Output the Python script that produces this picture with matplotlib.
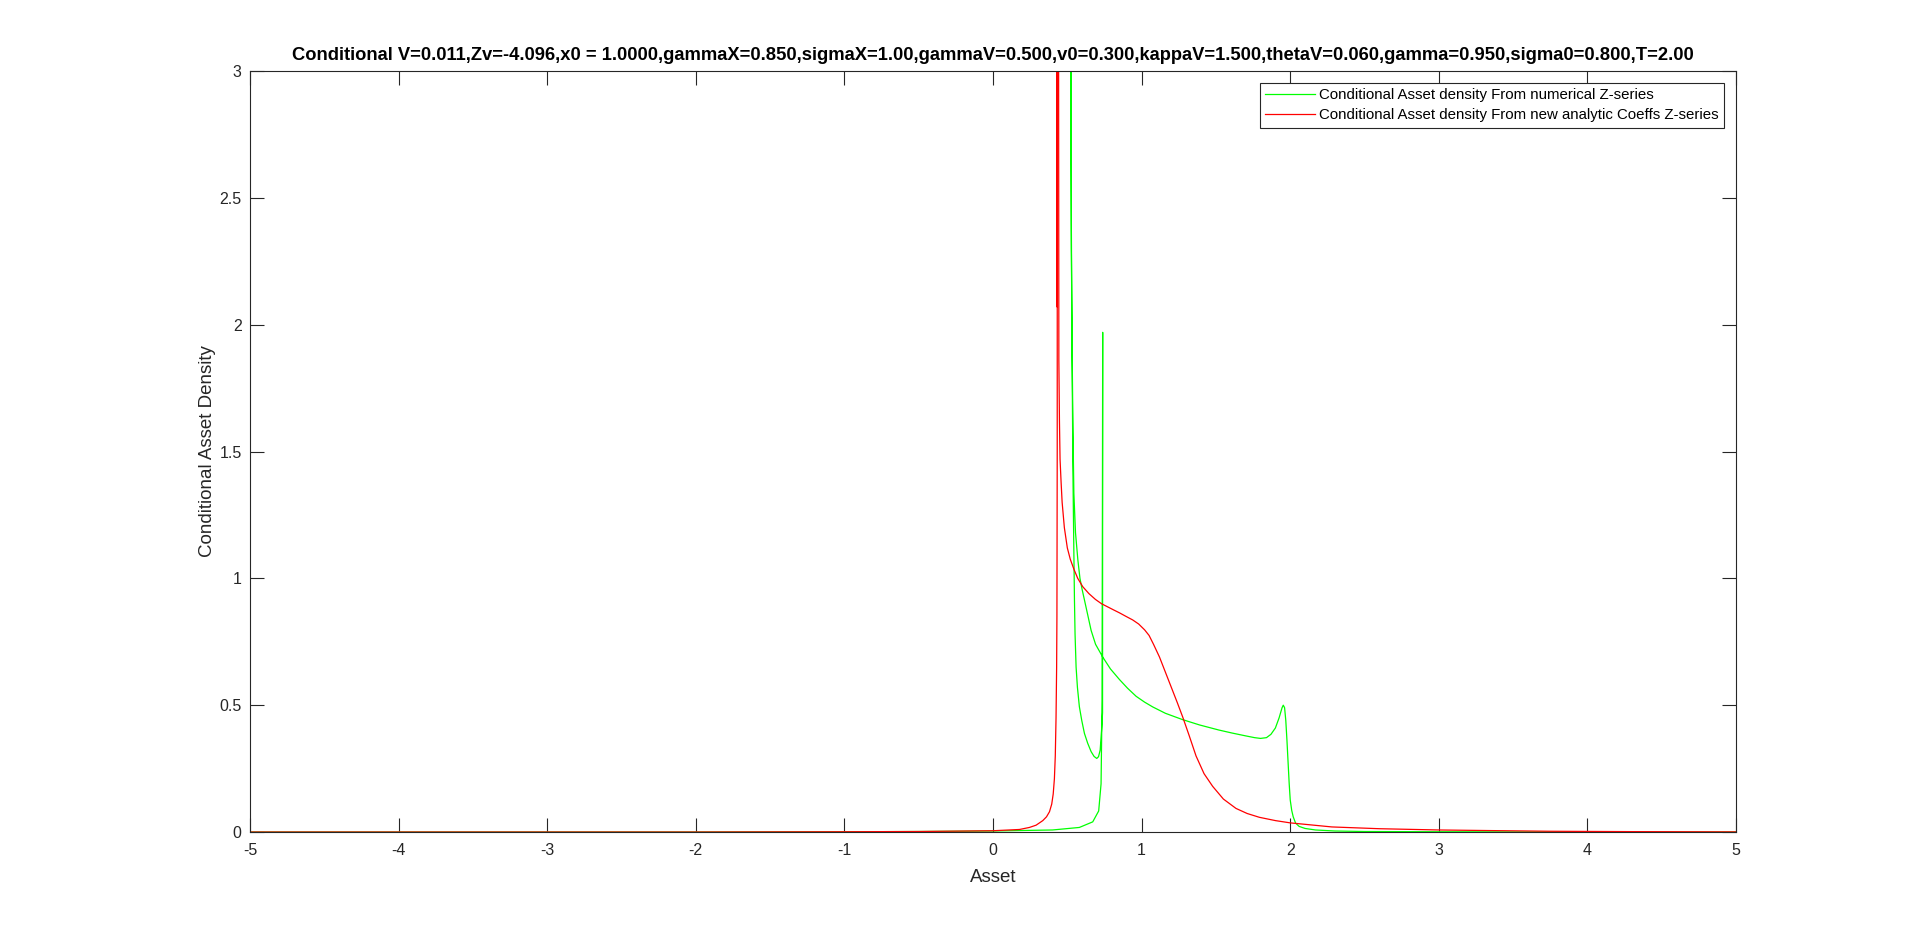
#!/usr/bin/env python3

"""
Conditional asset density: numerical Z-series vs analytic coefficients Z-series.
"""

import matplotlib
matplotlib.use("Agg")
import matplotlib.pyplot as plt

# Values. The asset grid is not monotonic
# near the folds, so both curves are plain polylines in drawing order.
green_x = [-5, -2, -1, -0.5, 0, 0.4, 0.581, 0.671, 0.711, 0.727, 0.734,
           0.738,
           0.737, 0.732, 0.721, 0.71, 0.698, 0.68, 0.66, 0.637, 0.615,
           0.597, 0.581, 0.568, 0.559, 0.552, 0.548, 0.543, 0.538, 0.532,
           0.527, 0.523, 0.521,
           0.522, 0.524, 0.527, 0.533, 0.538, 0.544, 0.555, 0.571, 0.585,
           0.6, 0.617, 0.635, 0.66, 0.69, 0.738, 0.79, 0.851, 0.905, 0.963,
           1.02, 1.075, 1.16, 1.276, 1.39, 1.52, 1.61, 1.7, 1.76, 1.8, 1.84,
           1.87, 1.9, 1.925, 1.945, 1.953, 1.962, 1.97, 1.978, 1.985, 1.993,
           2.0, 2.01, 2.02, 2.036, 2.06, 2.1, 2.17, 2.3, 2.5, 3, 4, 5]
green_y = [0, 0, 0.001, 0.002, 0.004, 0.008, 0.018, 0.04, 0.083, 0.19, 0.52,
           1.97,
           0.47, 0.415, 0.323, 0.297, 0.29, 0.298, 0.317, 0.35, 0.389,
           0.44, 0.494, 0.57, 0.65, 0.78, 0.914, 1.15, 1.4, 1.86,
           2.4, 3.2, 6.0,
           4.0, 2.9, 2.3, 1.86, 1.58, 1.335, 1.18, 1.072, 1.0,
           0.955, 0.91, 0.862, 0.795, 0.74, 0.69, 0.643, 0.601, 0.567, 0.535,
           0.512, 0.493, 0.468, 0.443, 0.422, 0.402, 0.39, 0.379, 0.372,
           0.369, 0.372, 0.385, 0.41, 0.45, 0.49, 0.5, 0.49, 0.44, 0.36,
           0.28, 0.19, 0.126, 0.085, 0.06, 0.035, 0.022, 0.014, 0.008,
           0.004, 0.002, 0.001, 0, 0]

red_x = [-5, -2, -1, -0.5, 0, 0.178, 0.245, 0.29, 0.335, 0.36, 0.38, 0.395,
         0.405, 0.413, 0.419, 0.424, 0.428, 0.43, 0.432,
         0.433, 0.431, 0.436, 0.44,
         0.443, 0.447, 0.451, 0.458, 0.465, 0.48, 0.5, 0.52, 0.545, 0.57,
         0.604, 0.645, 0.689, 0.73, 0.77, 0.81, 0.851, 0.895, 0.94, 0.98,
         1.02, 1.05, 1.08, 1.12, 1.16, 1.2, 1.24, 1.276, 1.32, 1.366, 1.42,
         1.478, 1.55, 1.635, 1.71, 1.792, 1.9, 2.0, 2.28, 2.6, 3.0, 3.74,
         4.3, 5]
red_y = [0, 0, 0.001, 0.002, 0.005, 0.01, 0.018, 0.027, 0.045, 0.06, 0.08,
         0.11, 0.15, 0.21, 0.3, 0.45, 0.65, 0.85, 1.5,
         5.0, 2.07, 6.0, 4.0,
         1.86, 1.62, 1.47, 1.38, 1.3, 1.2, 1.12, 1.075, 1.035, 1.0,
         0.967, 0.94, 0.917, 0.9, 0.888, 0.876, 0.864, 0.85, 0.836, 0.82,
         0.797, 0.775, 0.74, 0.69, 0.63, 0.57, 0.51, 0.454, 0.38, 0.3, 0.23,
         0.18, 0.13, 0.093, 0.073, 0.058, 0.045, 0.036, 0.02, 0.013, 0.008,
         0.003, 0.0015, 0.0005]

x_ticks = [-5, -4, -3, -2, -1, 0, 1, 2, 3, 4, 5]
y_ticks = [0, 0.5, 1, 1.5, 2, 2.5, 3]
y_tick_labels = ["0", "0.5", "1", "1.5", "2", "2.5", "3"]

title = ("Conditional V=0.011,Zv=-4.096,x0 = 1.0000,gammaX=0.850,"
         "sigmaX=1.00,gammaV=0.500,v0=0.300,kappaV=1.500,thetaV=0.060,"
         "gamma=0.950,sigma0=0.800,T=2.00")
labels = ["Conditional Asset density From numerical Z-series",
          "Conditional Asset density From new analytic Coeffs Z-series"]

axis_grey = (0.15, 0.15, 0.15)

plt.rcParams.update({
    "font.family": ["Liberation Sans", "DejaVu Sans"],
    "font.size": 11.5,
})

fig = plt.figure(figsize=(19.2, 9.36), dpi=100)
ax = fig.add_axes([0.1302, 0.1111, 0.7740, 0.8130])

ax.plot(green_x, green_y, color=(0, 1, 0), lw=0.9, label=labels[0])
ax.plot(red_x, red_y, color=(1, 0, 0), lw=0.9, label=labels[1])

ax.set_xlim(-5, 5)
ax.set_ylim(0, 3)
ax.set_xticks(x_ticks)
ax.set_xticklabels([str(t) for t in x_ticks])
ax.set_yticks(y_ticks)
ax.set_yticklabels(y_tick_labels)
ax.tick_params(direction="in", length=10, width=0.8, colors=axis_grey,
               labelsize=11.5, top=True, right=True)
ax.tick_params(axis="x", pad=8)
ax.tick_params(axis="y", pad=6)
for spine in ax.spines.values():
    spine.set_color(axis_grey)
    spine.set_linewidth(0.8)

ax.set_xlabel("Asset", fontsize=13.5, color=axis_grey, labelpad=7.5)
ax.set_ylabel("Conditional Asset Density", fontsize=13.5, color=axis_grey,
              labelpad=2.5)
ax.set_title(title, fontsize=13.2, fontweight="bold", color="black", pad=8)

leg = ax.legend(loc="upper right", fontsize=10.8, fancybox=False,
                framealpha=1, edgecolor=axis_grey, handlelength=3.3,
                handletextpad=0.3, borderpad=0.35, labelspacing=0.4,
                borderaxespad=0.8)
leg.get_frame().set_linewidth(0.8)

fig.savefig("out.png", dpi=100, facecolor="white")
